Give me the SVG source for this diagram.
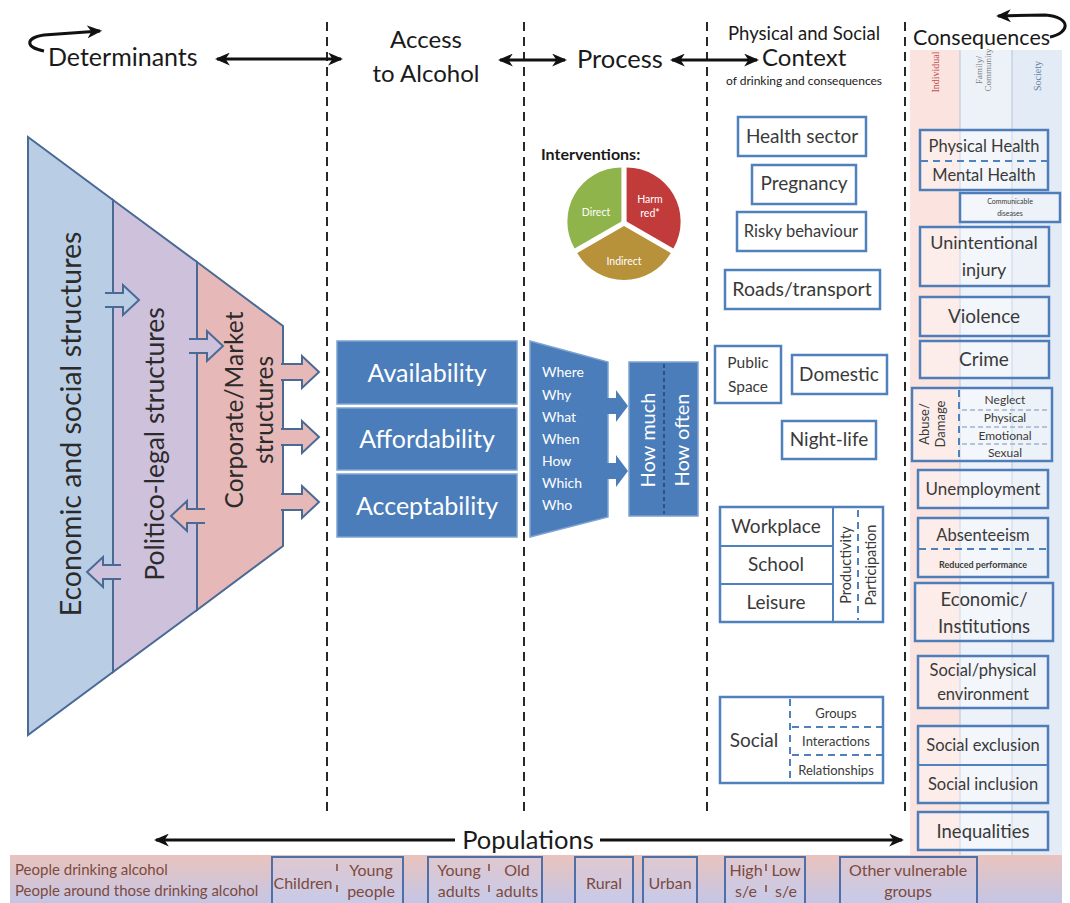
<svg xmlns="http://www.w3.org/2000/svg" width="1070" height="903" viewBox="0 0 1070 903">
  <style>
    .f { font-family: Lato, "Liberation Sans", sans-serif; }
    .hd { font-family: Lato, "Liberation Sans", sans-serif; fill: #1a1a1a; }
    .mid { text-anchor: middle; }
    .dash { stroke: #111; stroke-width: 1.8; stroke-dasharray: 9 6; fill: none; }
    .arr { stroke: #111; stroke-width: 3; fill: none; marker-end: url(#ah); }
    .arr2 { stroke: #111; stroke-width: 3; fill: none; marker-start: url(#ah); marker-end: url(#ah); }
    .tri { stroke: #4a6a96; stroke-width: 2; }
    .blk { fill: #4a7dba; stroke: #7ea2d2; stroke-width: 1.5; }
    .wt { fill: #fff; font-family: Lato, "Liberation Sans", sans-serif; text-anchor: middle; }
    .ctx { fill: #fff; stroke: #4f81bd; stroke-width: 2.5; }
    .cq { fill: rgba(255,255,255,0.35); stroke: #4f7db9; stroke-width: 2.5; }
    .tx { fill: #3a3a3a; font-family: Lato, "Liberation Sans", sans-serif; text-anchor: middle; }
    .inner { stroke: #4f81bd; stroke-width: 2; fill: none; }
    .idash { stroke: #4f81bd; stroke-width: 2; stroke-dasharray: 7 5; fill: none; }
    .ldash { stroke: #9fb3cf; stroke-width: 1.5; stroke-dasharray: 5 3; fill: none; }
    .pop { fill: rgba(205,208,238,0.35); stroke: #4f6fa8; stroke-width: 2; }
    .pt { fill: #7d4a3c; font-family: Lato, "Liberation Sans", sans-serif; font-size: 16px; text-anchor: middle; }
    .psep { stroke: #7d4a3c; stroke-width: 1.5; stroke-dasharray: 7 14; }
  </style>
  <defs>
    <marker id="ah" viewBox="0 0 14 12" refX="12" refY="6" markerWidth="15" markerHeight="13" markerUnits="userSpaceOnUse" orient="auto-start-reverse">
      <path d="M0,0 L14,6 L0,12 L4,6 Z" fill="#111"/>
    </marker>
    <linearGradient id="strip" x1="0" y1="0" x2="0" y2="1">
      <stop offset="0" stop-color="#eac3bd"/>
      <stop offset="1" stop-color="#c4c6e6"/>
    </linearGradient>
  </defs>

  <rect width="1070" height="903" fill="#fff"/>

  <!-- consequences column background: individual / family-community / society -->
  <g id="consequence-bands">
    <rect x="910" y="50" width="50" height="805" fill="#fbe4df"/>
    <rect x="960" y="50" width="52" height="805" fill="#edf2f9"/>
    <rect x="1012" y="50" width="50" height="805" fill="#e3ebf6"/>
    <line x1="960" y1="50" x2="960" y2="855" stroke="#b5c3da" stroke-width="1"/>
    <line x1="1012" y1="50" x2="1012" y2="855" stroke="#b5c3da" stroke-width="1"/>
    <text transform="translate(939,72) rotate(-90)" font-family="Liberation Serif, serif" font-size="10" fill="#c0504d" text-anchor="middle">Individual</text>
    <text transform="translate(982,70) rotate(-90)" font-family="Liberation Serif, serif" font-size="9" fill="#7a7a7a" text-anchor="middle">Family/</text>
    <text transform="translate(991,70) rotate(-90)" font-family="Liberation Serif, serif" font-size="9" fill="#7a7a7a" text-anchor="middle">Community</text>
    <text transform="translate(1041,76) rotate(-90)" font-family="Liberation Serif, serif" font-size="10" fill="#5f7fa3" text-anchor="middle">Society</text>
  </g>

  <!-- column separators -->
  <g id="separators">
    <line class="dash" x1="327" y1="22" x2="327" y2="812"/>
    <line class="dash" x1="524" y1="22" x2="524" y2="812"/>
    <line class="dash" x1="707" y1="22" x2="707" y2="812"/>
    <line class="dash" x1="905" y1="22" x2="905" y2="812"/>
  </g>

  <!-- column headings -->
  <g id="headings">
    <text class="hd" x="48" y="66" font-size="25">Determinants</text>
    <text class="hd mid" x="426" y="48" font-size="24">Access</text>
    <text class="hd mid" x="426" y="82" font-size="24">to Alcohol</text>
    <text class="hd" x="577" y="68" font-size="25.5">Process</text>
    <text class="hd mid" x="804" y="40" font-size="18.5">Physical and Social</text>
    <text class="hd" x="762" y="66" font-size="24">Context</text>
    <text class="hd mid" x="804" y="85" font-size="12">of drinking and consequences</text>
    <text class="hd" x="913" y="45" font-size="21.5">Consequences</text>
  </g>

  <!-- connectors between headings and the populations axis -->
  <g id="connectors">
    <path class="arr" d="M44,51 C26,48 24,38 44,35 L100,31"/>
    <path class="arr" d="M1050,37 C1070,33 1072,17 1045,15 L998,16"/>
    <line class="arr2" x1="217" y1="59" x2="341" y2="59"/>
    <line class="arr2" x1="500" y1="60" x2="565" y2="60"/>
    <line class="arr2" x1="672" y1="60" x2="757" y2="60"/>
    <line class="arr" x1="455" y1="840" x2="156" y2="840"/>
    <line class="arr" x1="600" y1="840" x2="902" y2="840"/>
  </g>

  <!-- determinants triangle -->
  <g id="determinants">
    <polygon class="tri" points="28,137 113,200 113,672 28,735" fill="#b9cde5"/>
    <polygon class="tri" points="113,200 197,262 197,610 113,672" fill="#cdc1db"/>
    <polygon class="tri" points="197,262 283,326 283,546 197,610" fill="#e6b9b8"/>
    <!-- two-way influence arrows across the layer boundaries -->
    <path class="tri" fill="#b9cde5" d="M105,293 L123,293 L123,285 L139,300 L123,315 L123,307 L105,307"/>
    <path class="tri" fill="#cdc1db" d="M121,565 L103,565 L103,557 L87,572 L103,587 L103,579 L121,579"/>
    <path class="tri" fill="#cdc1db" d="M189,339 L207,339 L207,331 L223,346 L207,361 L207,353 L189,353"/>
    <path class="tri" fill="#e6b9b8" d="M205,509 L187,509 L187,501 L171,516 L187,531 L187,523 L205,523"/>
    <path class="tri" fill="#e6b9b8" d="M281,364 L302,364 L302,356 L319,372 L302,388 L302,380 L281,380"/>
    <path class="tri" fill="#e6b9b8" d="M281,429 L302,429 L302,421 L319,437 L302,453 L302,445 L281,445"/>
    <path class="tri" fill="#e6b9b8" d="M281,494 L302,494 L302,486 L319,502 L302,518 L302,510 L281,510"/>
    <text class="f mid" transform="translate(81,424) rotate(-90)" font-size="28.5" fill="#2b2b2b">Economic and social structures</text>
    <text class="f mid" transform="translate(164,444) rotate(-90)" font-size="26.5" fill="#2b2b2b">Politico-legal structures</text>
    <text class="f mid" transform="translate(243,410) rotate(-90)" font-size="24.5" fill="#2b2b2b">Corporate/Market</text>
    <text class="f mid" transform="translate(273,410) rotate(-90)" font-size="24.5" fill="#2b2b2b">structures</text>
  </g>

  <!-- access to alcohol -->
  <g id="access">
    <rect class="blk" x="337" y="341" width="180" height="63"/>
    <rect class="blk" x="337" y="408" width="180" height="62"/>
    <rect class="blk" x="337" y="474" width="180" height="63"/>
    <text class="wt" x="427" y="382" font-size="25">Availability</text>
    <text class="wt" x="427" y="448" font-size="25">Affordability</text>
    <text class="wt" x="427" y="515" font-size="25">Acceptability</text>
  </g>

  <!-- drinking process -->
  <g id="process">
    <polygon class="blk" points="530,341 608,362 608,517 530,537"/>
    <g class="f" fill="#fff" font-size="14">
      <text x="542" y="377">Where</text>
      <text x="542" y="400">Why</text>
      <text x="542" y="422">What</text>
      <text x="542" y="444">When</text>
      <text x="542" y="466">How</text>
      <text x="542" y="488">Which</text>
      <text x="542" y="510">Who</text>
    </g>
    <path fill="#4a7dba" d="M606,398 L616,398 L616,390 L628,406 L616,422 L616,414 L606,414 Z"/>
    <path fill="#4a7dba" d="M606,463 L616,463 L616,455 L628,471 L616,487 L616,479 L606,479 Z"/>
    <rect class="blk" x="629" y="362" width="69" height="154"/>
    <line x1="664" y1="364" x2="664" y2="514" stroke="#1f3d66" stroke-width="1.3" stroke-dasharray="4 3"/>
    <text class="wt" transform="translate(655,440) rotate(-90)" font-size="20">How much</text>
    <text class="wt" transform="translate(689,440) rotate(-90)" font-size="20">How often</text>
  </g>

  <!-- interventions -->
  <g id="interventions">
    <text class="f" x="541" y="160" font-size="16" font-weight="bold" fill="#1a1a1a">Interventions:</text>
    <path d="M626.6,221.5 L626.6,167.5 A54,54 0 0 1 673.4,248.5 Z" fill="#c23b3b"/>
    <path d="M624,226 L670.8,253 A54,54 0 0 1 577.2,253 Z" fill="#b8923a"/>
    <path d="M621.4,221.5 L574.6,248.5 A54,54 0 0 1 621.4,167.5 Z" fill="#8fb44b"/>
    <text class="wt" x="596" y="216" font-size="10.5">Direct</text>
    <text class="wt" x="650" y="203" font-size="10.5">Harm</text>
    <text class="wt" x="650" y="217" font-size="10.5">red*</text>
    <text class="wt" x="624" y="265" font-size="10.5">Indirect</text>
  </g>

  <!-- context of drinking -->
  <g id="ctx-health"><rect class="ctx" x="738" y="117" width="128" height="39"/><text class="tx" x="802" y="143" font-size="19">Health sector</text></g>
  <g id="ctx-pregnancy"><rect class="ctx" x="752" y="165" width="104" height="39"/><text class="tx" x="804" y="190" font-size="19">Pregnancy</text></g>
  <g id="ctx-risky"><rect class="ctx" x="737" y="212" width="129" height="39"/><text class="tx" x="801" y="237" font-size="16.5">Risky behaviour</text></g>
  <g id="ctx-roads"><rect class="ctx" x="725" y="270" width="155" height="39"/><text class="tx" x="802" y="296" font-size="19.5">Roads/transport</text></g>
  <g id="ctx-public"><rect class="ctx" x="715" y="346" width="66" height="57"/><text class="tx" x="748" y="368" font-size="15.5">Public</text><text class="tx" x="748" y="392" font-size="15.5">Space</text></g>
  <g id="ctx-domestic"><rect class="ctx" x="792" y="355" width="95" height="39"/><text class="tx" x="839" y="381" font-size="19">Domestic</text></g>
  <g id="ctx-nightlife"><rect class="ctx" x="782" y="421" width="94" height="38"/><text class="tx" x="829" y="446" font-size="19">Night-life</text></g>
  <g id="ctx-work">
    <rect class="ctx" x="720" y="507" width="163" height="115"/>
    <line class="inner" x1="833" y1="507" x2="833" y2="622"/>
    <line class="inner" x1="720" y1="546" x2="833" y2="546"/>
    <line class="inner" x1="720" y1="584" x2="833" y2="584"/>
    <line class="idash" x1="858" y1="510" x2="858" y2="620"/>
    <text class="tx" x="776" y="533" font-size="19">Workplace</text>
    <text class="tx" x="776" y="571" font-size="19">School</text>
    <text class="tx" x="776" y="609" font-size="19">Leisure</text>
    <text class="tx" transform="translate(851,565) rotate(-90)" font-size="14.5">Productivity</text>
    <text class="tx" transform="translate(876,565) rotate(-90)" font-size="14.5">Participation</text>
  </g>
  <g id="ctx-social">
    <rect class="ctx" x="720" y="697" width="163" height="86"/>
    <line class="idash" x1="790" y1="699" x2="790" y2="781"/>
    <line class="idash" x1="792" y1="727" x2="883" y2="727"/>
    <line class="idash" x1="792" y1="755" x2="883" y2="755"/>
    <text class="tx" x="754" y="747" font-size="19">Social</text>
    <text class="tx" x="836" y="718" font-size="13">Groups</text>
    <text class="tx" x="836" y="746" font-size="13">Interactions</text>
    <text class="tx" x="836" y="775" font-size="13">Relationships</text>
  </g>

  <!-- consequences -->
  <g id="cq-health">
    <rect class="cq" x="920" y="130" width="128" height="60"/>
    <line class="idash" x1="921" y1="161" x2="1047" y2="161"/>
    <text class="tx" x="984" y="152" font-size="16.5">Physical Health</text>
    <text class="tx" x="984" y="181" font-size="16.5">Mental Health</text>
  </g>
  <g id="cq-communicable">
    <rect class="cq" x="960" y="193" width="100" height="29"/>
    <text class="tx" x="1010" y="204" font-size="7">Communicable</text>
    <text class="tx" x="1010" y="216" font-size="7">diseases</text>
  </g>
  <g id="cq-injury"><rect class="cq" x="920" y="227" width="129" height="59"/><text class="tx" x="984" y="249" font-size="18">Unintentional</text><text class="tx" x="984" y="276" font-size="18">injury</text></g>
  <g id="cq-violence"><rect class="cq" x="920" y="297" width="129" height="39"/><text class="tx" x="984" y="323" font-size="19">Violence</text></g>
  <g id="cq-crime"><rect class="cq" x="920" y="341" width="129" height="37"/><text class="tx" x="984" y="366" font-size="19">Crime</text></g>
  <g id="cq-abuse">
    <rect class="cq" x="912" y="388" width="140" height="73"/>
    <line class="idash" x1="959" y1="390" x2="959" y2="459"/>
    <line class="ldash" x1="962" y1="410" x2="1050" y2="410"/>
    <line class="ldash" x1="962" y1="427" x2="1050" y2="427"/>
    <line class="ldash" x1="962" y1="444" x2="1050" y2="444"/>
    <text class="tx" transform="translate(929,424) rotate(-90)" font-size="13">Abuse/</text>
    <text class="tx" transform="translate(945,424) rotate(-90)" font-size="13">Damage</text>
    <text class="tx" x="1005" y="404" font-size="12">Neglect</text>
    <text class="tx" x="1005" y="422" font-size="12">Physical</text>
    <text class="tx" x="1005" y="440" font-size="12">Emotional</text>
    <text class="tx" x="1005" y="457" font-size="12">Sexual</text>
  </g>
  <g id="cq-unemployment"><rect class="cq" x="918" y="470" width="130" height="38"/><text class="tx" x="983" y="495" font-size="17">Unemployment</text></g>
  <g id="cq-absenteeism">
    <rect class="cq" x="918" y="518" width="130" height="59"/>
    <line class="idash" x1="919" y1="549" x2="1047" y2="549"/>
    <text class="tx" x="983" y="541" font-size="16.5">Absenteeism</text>
    <text class="tx" x="983" y="568" font-size="9" font-weight="bold">Reduced performance</text>
  </g>
  <g id="cq-economic"><rect class="cq" x="915" y="583" width="138" height="58"/><text class="tx" x="984" y="606" font-size="18.5">Economic/</text><text class="tx" x="984" y="633" font-size="18.5">Institutions</text></g>
  <g id="cq-environment"><rect class="cq" x="918" y="656" width="130" height="52"/><text class="tx" x="983" y="676" font-size="16.5">Social/physical</text><text class="tx" x="983" y="700" font-size="16.5">environment</text></g>
  <g id="cq-inclusion">
    <rect class="cq" x="918" y="726" width="130" height="77"/>
    <line class="inner" x1="918" y1="765" x2="1048" y2="765"/>
    <text class="tx" x="983" y="751" font-size="16.5">Social exclusion</text>
    <text class="tx" x="983" y="790" font-size="16.5">Social inclusion</text>
  </g>
  <g id="cq-inequalities"><rect class="cq" x="918" y="812" width="130" height="38"/><text class="tx" x="983" y="838" font-size="18.5">Inequalities</text></g>

  <!-- populations -->
  <g id="populations">
    <text class="hd mid" x="528" y="849" font-size="25.5">Populations</text>
    <rect x="10" y="855" width="1052" height="48" fill="url(#strip)"/>
    <text x="15" y="875" fill="#7d4a3c" font-family="Lato, 'Liberation Sans', sans-serif" font-size="15">People drinking alcohol</text>
    <text x="15" y="896" fill="#7d4a3c" font-family="Lato, 'Liberation Sans', sans-serif" font-size="15">People around those drinking alcohol</text>
  </g>
  <g id="pop-age">
    <rect class="pop" x="272" y="857" width="131" height="50"/>
    <line class="psep" x1="337" y1="864" x2="337" y2="900"/>
    <text class="pt" x="303" y="889">Children</text>
    <text class="pt" x="371" y="876">Young</text>
    <text class="pt" x="371" y="897">people</text>
  </g>
  <g id="pop-adults">
    <rect class="pop" x="428" y="857" width="114" height="50"/>
    <line class="psep" x1="489" y1="864" x2="489" y2="900"/>
    <text class="pt" x="459" y="876">Young</text>
    <text class="pt" x="459" y="897">adults</text>
    <text class="pt" x="517" y="876">Old</text>
    <text class="pt" x="517" y="897">adults</text>
  </g>
  <g id="pop-rural"><rect class="pop" x="575" y="857" width="58" height="50"/><text class="pt" x="604" y="889">Rural</text></g>
  <g id="pop-urban"><rect class="pop" x="643" y="857" width="54" height="50"/><text class="pt" x="670" y="889">Urban</text></g>
  <g id="pop-ses">
    <rect class="pop" x="725" y="857" width="80" height="50"/>
    <line class="psep" x1="766" y1="864" x2="766" y2="900"/>
    <text class="pt" x="746" y="876">High</text>
    <text class="pt" x="746" y="897">s/e</text>
    <text class="pt" x="786" y="876">Low</text>
    <text class="pt" x="786" y="897">s/e</text>
  </g>
  <g id="pop-vulnerable"><rect class="pop" x="840" y="857" width="137" height="50"/><text class="pt" x="908" y="876">Other vulnerable</text><text class="pt" x="908" y="897">groups</text></g>
</svg>
